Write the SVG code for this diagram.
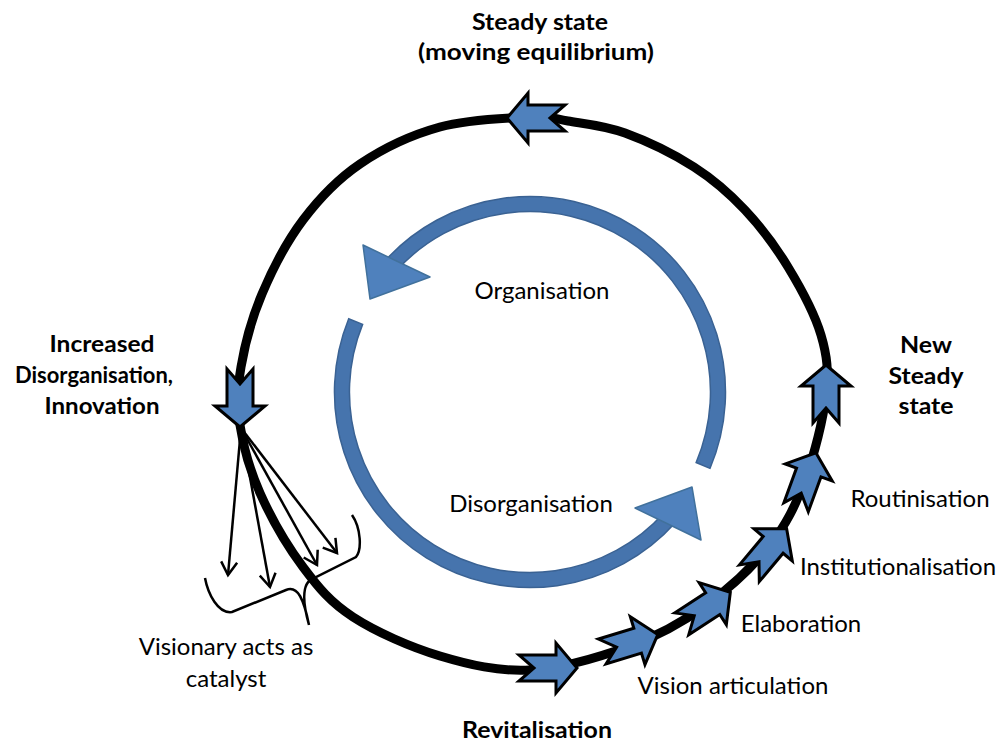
<svg xmlns="http://www.w3.org/2000/svg" width="999" height="744" viewBox="0 0 999 744">
<defs>
<style>
.lbl{font-family:Lato,"Open Sans","Liberation Sans",sans-serif;font-size:24px;fill:#000;text-anchor:middle}
.bold{font-family:Lato,"Open Sans","Liberation Sans",sans-serif;font-size:23px;font-weight:bold;fill:#000;text-anchor:middle}
.loop{fill:none;stroke:#000;stroke-width:9}
.step{fill:#4F81BD;stroke:#000;stroke-width:3;stroke-linejoin:miter}
.band{fill:#4674ad;stroke:#3a6293;stroke-width:1.5}
.head{fill:#4F81BD;stroke:#41719c;stroke-width:1.5;stroke-linejoin:round}
.fan{fill:none;stroke:#000;stroke-width:2.5}
</style>
<polygon id="notched" points="-29,-13 8,-13 8,-25 29,0 8,25 8,13 -29,13 -14,0"/>
<marker id="open" markerUnits="userSpaceOnUse" markerWidth="20" markerHeight="20" refX="13" refY="8" orient="auto" overflow="visible">
<path d="M0,0 L13,8 L0,16" fill="none" stroke="#000" stroke-width="2.5"/>
</marker>
</defs>
<rect width="999" height="744" fill="#fff"/>

<g id="connectors">
<path id="outer-loop" class="loop" d="M530,117 C508.67,118 468.33,119.17 440,127 C411.67,134.83 382.83,148.5 360,164 C337.17,179.5 319.33,198.33 303,220 C286.67,241.67 272.33,269.5 262,294 C251.67,318.5 244.67,345.17 241,367 C237.33,388.83 236.83,404 240,425 C243.17,446 249.5,469.33 260,493 C270.5,516.67 287.5,546.33 303,567 C318.5,587.67 330.17,602.17 353,617 C375.83,631.83 410.5,647.17 440,656 C469.5,664.83 498.33,671.67 530,670 C561.67,668.33 600.83,656.67 630,646 C659.17,635.33 681.67,622.83 705,606 C728.33,589.17 753.33,566 770,545 C786.67,524 795.67,505 805,480 C814.33,455 823.33,419.17 826,395 C828.67,370.83 827.33,356.33 821,335 C814.67,313.67 800.67,287.83 788,267 C775.33,246.17 760.67,226.67 745,210 C729.33,193.33 714,179.83 694,167 C674,154.17 646,140.67 625,133 C604,125.33 583.83,123.67 568,121 C552.17,118.33 551.33,116 530,117 Z"/>

<g id="loop-arrows">
<use href="#notched" class="step" transform="translate(536,118) rotate(180)"/>
<use href="#notched" class="step" transform="translate(240,398) rotate(90)"/>
<use href="#notched" class="step" transform="translate(548,668)"/>
<use href="#notched" class="step" transform="translate(630,643) rotate(-17)"/>
<use href="#notched" class="step" transform="translate(706,608) rotate(-33)"/>
<use href="#notched" class="step" transform="translate(768,551) rotate(-50)"/>
<use href="#notched" class="step" transform="translate(806,480) rotate(-70)"/>
<use href="#notched" class="step" transform="translate(826,394) rotate(-90)"/>
</g>

<g id="inner-cycle">
<path class="band" d="M709.96,468.38 A195.5,195.5 0 0 0 384.7,261.2 L395.9,271.2 A180.5,180.5 0 0 1 696.15,462.52 Z"/>
<polygon class="head" points="363,245 430,277 370,299"/>
<path class="band" d="M348.7,318.8 A195.5,195.5 0 0 0 675.3,522.8 L664.1,512.8 A180.5,180.5 0 0 1 362.6,324.4 Z"/>
<polygon class="head" points="635,508 692,487 701,540"/>
</g>

<g id="catalyst-fan">
<line class="fan" x1="241" y1="428" x2="228" y2="575" marker-end="url(#open)"/>
<line class="fan" x1="241" y1="428" x2="270" y2="587" marker-end="url(#open)"/>
<line class="fan" x1="241" y1="428" x2="317" y2="565" marker-end="url(#open)"/>
<line class="fan" x1="241" y1="428" x2="337" y2="553" marker-end="url(#open)"/>
</g>

<path id="brace" class="fan" d="M205,578 C208,594 218,614 232,612 L286,590 C298,585 304,600 309,625 M309,625 C302,600 302,582 314,578 L356,557 C362,550 361,528 352,515"/>
</g>

<g id="node-steady">
<text class="bold" x="540" y="30" textLength="136" lengthAdjust="spacingAndGlyphs">Steady state</text>
<text class="bold" x="536" y="60" textLength="236" lengthAdjust="spacingAndGlyphs">(moving equilibrium)</text>
</g>
<g id="node-increased">
<text class="bold" x="102" y="352" textLength="105" lengthAdjust="spacingAndGlyphs">Increased</text>
<text class="bold" x="94" y="383" textLength="158" lengthAdjust="spacingAndGlyphs">Disorganisation,</text>
<text class="bold" x="102" y="414" textLength="115" lengthAdjust="spacingAndGlyphs">Innovation</text>
</g>
<g id="node-new-steady">
<text class="bold" x="926" y="353" textLength="52" lengthAdjust="spacingAndGlyphs">New</text>
<text class="bold" x="926" y="384" textLength="75" lengthAdjust="spacingAndGlyphs">Steady</text>
<text class="bold" x="926" y="414" textLength="55" lengthAdjust="spacingAndGlyphs">state</text>
</g>
<g id="node-revitalisation">
<text class="bold" x="537" y="738" textLength="150" lengthAdjust="spacingAndGlyphs">Revitalisation</text>
</g>
<g id="node-organisation"><text class="lbl" x="542" y="299">Organisation</text></g>
<g id="node-disorganisation"><text class="lbl" x="531" y="512">Disorganisation</text></g>
<g id="node-routinisation"><text class="lbl" x="920" y="507">Routinisation</text></g>
<g id="node-institutionalisation"><text class="lbl" x="898" y="575">Institutionalisation</text></g>
<g id="node-elaboration"><text class="lbl" x="801" y="632">Elaboration</text></g>
<g id="node-vision"><text class="lbl" x="733" y="694">Vision articulation</text></g>
<g id="node-visionary">
<text class="lbl" x="226" y="655">Visionary acts as</text>
<text class="lbl" x="226" y="687">catalyst</text>
</g>
</svg>
